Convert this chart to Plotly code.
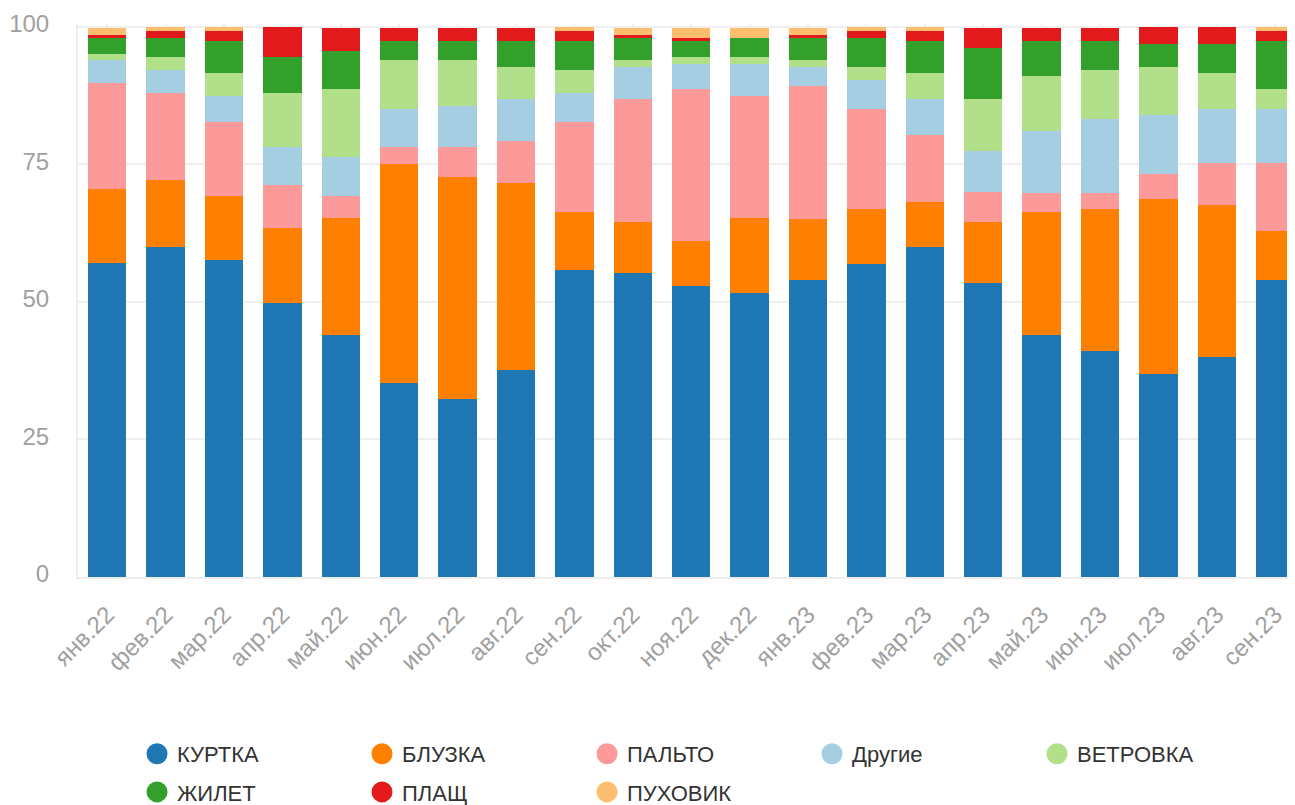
import plotly.graph_objects as go

months = ["янв.22", "фев.22", "мар.22", "апр.22", "май.22", "июн.22", "июл.22",
          "авг.22", "сен.22", "окт.22", "ноя.22", "дек.22", "янв.23", "фев.23",
          "мар.23", "апр.23", "май.23", "июн.23", "июл.23", "авг.23", "сен.23"]

kurtka = [57.0, 60.0, 57.6, 49.8, 44.0, 35.3, 32.4, 37.6, 55.8, 55.3, 52.9,
          51.6, 54.0, 56.9, 60.0, 53.5, 44.0, 41.1, 36.9, 40.0, 54.0]
bluzka = [13.5, 12.2, 11.7, 13.7, 21.3, 39.8, 40.3, 34.0, 10.6, 9.2, 8.2,
          13.7, 11.1, 10.0, 8.2, 11.0, 22.4, 25.8, 31.8, 27.6, 8.9]
palto = [19.3, 15.8, 13.4, 7.8, 4.0, 3.1, 5.5, 7.7, 16.3, 22.4, 27.6,
         22.2, 24.2, 18.2, 12.2, 5.5, 3.4, 2.9, 4.6, 7.7, 12.4]
drugie = [4.2, 4.2, 4.8, 6.9, 7.1, 6.9, 7.4, 7.6, 5.3, 5.8, 4.6,
          5.8, 3.4, 5.3, 6.5, 7.5, 11.3, 13.5, 10.7, 9.8, 9.8]
vetrovka = [1.1, 2.3, 4.1, 9.8, 12.3, 8.9, 8.4, 5.8, 4.2, 1.3, 1.2,
            1.2, 1.3, 2.3, 4.7, 9.4, 10.0, 8.9, 8.7, 6.5, 3.6]
zhilet = [2.9, 3.5, 5.9, 6.5, 6.9, 3.5, 3.5, 4.8, 5.3, 4.0, 3.0,
          3.5, 4.0, 5.3, 5.9, 9.3, 6.4, 5.3, 4.2, 5.3, 8.8]
plashch = [0.5, 1.3, 1.8, 5.5, 4.2, 2.3, 2.3, 2.3, 1.8, 0.5, 0.5,
           0.0, 0.5, 1.3, 1.8, 3.6, 2.3, 2.3, 3.1, 3.1, 1.8]
puhovik = [1.3, 0.7, 0.7, 0.0, 0.0, 0.0, 0.0, 0.0, 0.7, 1.3, 1.8,
           1.8, 1.3, 0.7, 0.7, 0.0, 0.0, 0.0, 0.0, 0.0, 0.7]

series_names = ["КУРТКА", "БЛУЗКА", "ПАЛЬТО", "Другие", "ВЕТРОВКА",
                "ЖИЛЕТ", "ПЛАЩ", "ПУХОВИК"]
series_values = [kurtka, bluzka, palto, drugie, vetrovka, zhilet, plashch, puhovik]
colors = ["#1f78b4", "#ff7f00", "#fb9a99", "#a6cee3", "#b2df8a",
          "#33a02c", "#e31a1c", "#fdbf6f"]
y_ticks = [0, 25, 50, 75, 100]

FONT = "Liberation Sans, Arial, sans-serif"

fig = go.Figure()
for name, vals, col in zip(series_names, series_values, colors):
    fig.add_trace(go.Bar(
        x=months, y=vals, name=name, marker=dict(color=col, line=dict(width=0)),
        showlegend=False, legendgroup=name,
    ))

for i, (name, col) in enumerate(zip(series_names, colors)):
    fig.add_trace(go.Scatter(
        x=[None], y=[None], mode="markers", name=name, legendgroup=name,
        marker=dict(symbol="circle", size=16, color=col, line=dict(color=col, width=5)),
        legend="legend" if i < 5 else "legend2",
    ))

leg_common = dict(
    orientation="h", xanchor="left", yanchor="middle",
    font=dict(family=FONT, size=22, color="#333333"),
    entrywidth=180, entrywidthmode="pixels",
    bgcolor="rgba(0,0,0,0)", borderwidth=0, itemclick=False, itemdoubleclick=False,
)

# page body has an 8px margin, so the figure is shrunk by 8px and margins shifted
fig.update_layout(
    template="none",
    width=1287, height=797,
    margin=dict(l=70, r=0, t=16, b=228, autoexpand=False),
    barmode="stack", bargap=0.344,
    plot_bgcolor="white", paper_bgcolor="white",
    font=dict(family=FONT),
    xaxis=dict(
        type="category", range=[-0.5, 20.34], automargin=False,
        showgrid=True, gridcolor="#efefef", gridwidth=2,
        showline=True, linecolor="#eeeeee", linewidth=2,
        tickangle=-45, tickfont=dict(family=FONT, size=24, color="#a0a0a0"),
        ticks="", ticklabelstandoff=12, fixedrange=True,
    ),
    yaxis=dict(
        range=[0, 100.5], tickvals=y_ticks, ticktext=[str(v) for v in y_ticks],
        automargin=False,
        showgrid=True, gridcolor="#efefef", gridwidth=2,
        showline=True, linecolor="#eeeeee", linewidth=2,
        zeroline=False, ticks="",
        tickfont=dict(family=FONT, size=24, color="#a0a0a0"),
        ticklabelstandoff=22, ticklabelshift=-3, fixedrange=True,
    ),
    legend=dict(x=0.0485, y=-0.320, **leg_common),
    legend2=dict(x=0.0485, y=-0.389, **leg_common),
)

fig.write_html("out.html")
